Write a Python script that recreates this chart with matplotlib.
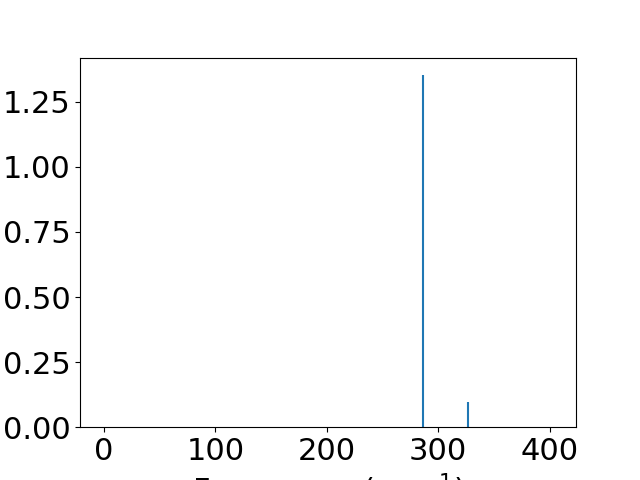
import numpy as np
from matplotlib import pyplot as plt

freqs = [286.0, 326.5]
intens = [1.352, 0.098]

plt.rcParams['font.size'] = 22

fig = plt.figure(figsize=(6.4, 4.8), dpi=100)
ax = fig.add_subplot(111)
ax.vlines(freqs, 0, intens, color='tab:blue', linewidth=1.5)
ax.set_xlim(-21.5, 423.7)
ax.set_ylim(0, max(intens) * 1.05)
ax.set_xticks([0, 100, 200, 300, 400])
ax.set_yticks([0.0, 0.25, 0.5, 0.75, 1.0, 1.25])
ax.set_xlabel('Frequency (cm$^{-1}$)')

plt.savefig('out.png')
